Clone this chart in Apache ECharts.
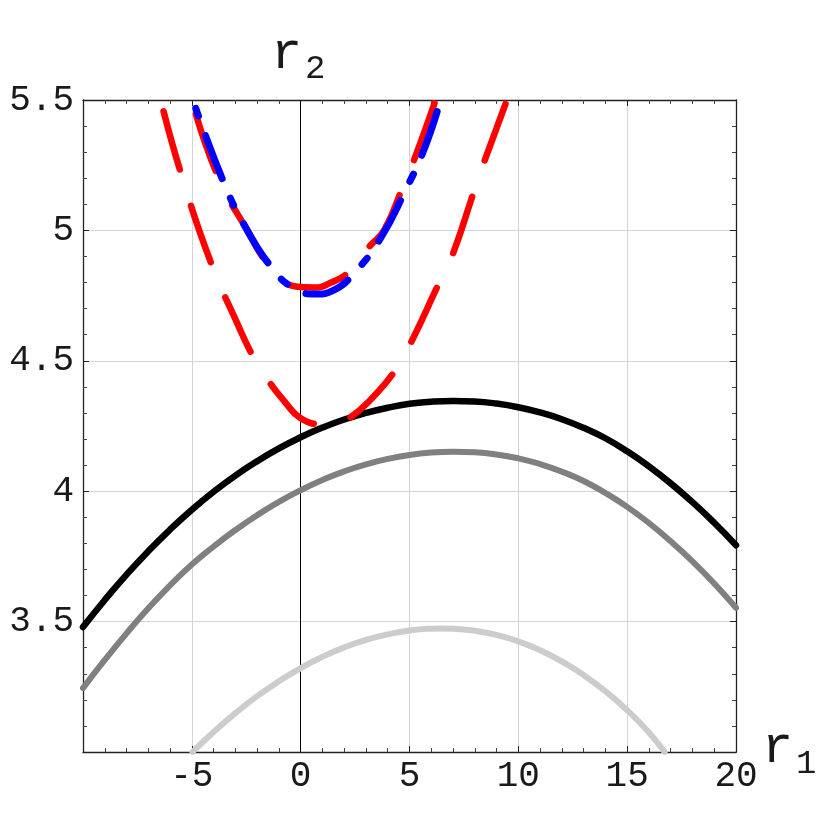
<!DOCTYPE html>
<html>
<head>
<meta charset="utf-8">
<script src="https://cdn.jsdelivr.net/npm/echarts@6/dist/echarts.min.js"></script>
<style>
  html, body { margin: 0; padding: 0; background: #fff; }
  #main { width: 830px; height: 830px; }
</style>
</head>
<body>
<div id="main"></div>
<script>
// r1 values shared by the black and gray curves
var r1Steps = [-10, -9, -8, -7, -6, -5, -4, -3, -2, -1, 0, 1, 2, 3, 4, 5, 6, 7, 8, 9, 10,
               11, 12, 13, 14, 15, 16, 17, 18, 19, 20];
var blackR2 = [3.479, 3.583, 3.68, 3.77, 3.853, 3.929, 3.998, 4.06, 4.115, 4.164, 4.207,
               4.244, 4.275, 4.3, 4.32, 4.335, 4.343, 4.346, 4.344, 4.336, 4.322,
               4.302, 4.276, 4.243, 4.203, 4.153, 4.095, 4.03, 3.958, 3.879, 3.793];
var grayR2 = [3.245, 3.353, 3.455, 3.551, 3.639, 3.719, 3.788, 3.851, 3.908, 3.959, 4.004,
              4.043, 4.076, 4.103, 4.124, 4.139, 4.148, 4.151, 4.149, 4.141, 4.126,
              4.104, 4.075, 4.039, 3.993, 3.94, 3.878, 3.808, 3.731, 3.646, 3.553];

var lightR1 = [-4.97, -4, -3, -2, -1, 0, 1, 2, 3, 4, 5, 6, 6.5, 7, 8, 9, 10, 11, 12, 13, 14, 15, 16, 16.72];
var lightR2 = [3.0, 3.077, 3.149, 3.214, 3.271, 3.322, 3.365, 3.401, 3.43, 3.451, 3.466, 3.473, 3.474,
               3.473, 3.465, 3.449, 3.424, 3.39, 3.347, 3.295, 3.233, 3.16, 3.075, 3.0];

var redOuterR1 = [-6.43, -5.51, -4.06, -3.0, -2.22, -1.45, -0.7, 0, 0.9, 1.6, 2.22, 3.2, 4.36,
                  5.05, 6.35, 6.97, 7.96, 8.42, 9.48];
var redOuterR2 = [5.5, 5.222, 4.862, 4.66, 4.522, 4.42, 4.34, 4.28, 4.258, 4.262, 4.28, 4.35, 4.465,
                  4.567, 4.797, 4.905, 5.149, 5.26, 5.5];

var redInnerR1 = [-5.0, -3.83, -2.45, -1.38, -0.15, 0.6, 1.4, 2.22, 3.14, 3.83, 4.67, 5.21, 6.2];
var redInnerR2 = [5.5, 5.213, 5.0, 4.861, 4.784, 4.781, 4.8, 4.842, 4.937, 5.0, 5.161, 5.27, 5.5];

var blueR1 = [-4.95, -3.52, -2.45, -1.3, -0.31, 0.7, 1.5, 2.45, 3.67, 4.82, 5.66, 6.43];
var blueR2 = [5.5, 5.181, 5.0, 4.855, 4.778, 4.756, 4.77, 4.836, 4.97, 5.155, 5.308, 5.5];

function pairs(xs, ys) {
    return xs.map(function (x, i) { return [x, ys[i]]; });
}

var chart = echarts.init(document.getElementById('main'));

var mono = 'Liberation Mono';
var frame = { show: true, onZero: false, lineStyle: { color: '#222', width: 1.3 } };
var ticks = { show: true, inside: true, length: 6, lineStyle: { color: '#222', width: 1 } };
var minor = { show: true, splitNumber: 5, length: 4, lineStyle: { color: '#444', width: 1 } };

function curve(data, color, width, dash, offset, z) {
    return {
        type: 'line',
        data: data,
        smooth: true,
        showSymbol: false,
        silent: true,
        z: z,
        lineStyle: { color: color, width: width, type: dash || 'solid', dashOffset: offset || 0, cap: 'round' }
    };
}

var option = {
    backgroundColor: '#fff',
    animation: false,
    grid: { left: 83, top: 100, width: 653, height: 652 },
    xAxis: [
        {
            type: 'value', min: -10, max: 20, interval: 5, position: 'bottom',
            axisLine: frame, axisTick: ticks, minorTick: minor,
            splitLine: { show: true, lineStyle: { color: '#d4d4d4', width: 1 } },
            axisLabel: { showMinLabel: false, fontFamily: mono, fontSize: 36, color: '#1a1a1a', margin: 6 }
        },
        {
            type: 'value', min: -10, max: 20, interval: 5, position: 'top',
            axisLine: frame, axisTick: ticks, minorTick: minor,
            splitLine: { show: false }, axisLabel: { show: false }
        }
    ],
    yAxis: [
        {
            type: 'value', min: 3, max: 5.5, interval: 0.5, position: 'left',
            axisLine: frame, axisTick: ticks, minorTick: minor,
            splitLine: { show: true, lineStyle: { color: '#d4d4d4', width: 1 } },
            axisLabel: { showMinLabel: false, fontFamily: mono, fontSize: 36, color: '#1a1a1a', margin: 9 }
        },
        {
            type: 'value', min: 3, max: 5.5, interval: 0.5, position: 'right',
            axisLine: frame, axisTick: ticks, minorTick: minor,
            splitLine: { show: false }, axisLabel: { show: false }
        }
    ],
    graphic: [
        { type: 'text', left: 271, top: 28, style: { text: 'r', font: '52px "Liberation Mono"', fill: '#1a1a1a' } },
        { type: 'text', left: 305, top: 52, style: { text: '2', font: '34px "Liberation Mono"', fill: '#1a1a1a' } },
        { type: 'text', left: 762, top: 722, style: { text: 'r', font: '52px "Liberation Mono"', fill: '#1a1a1a' } },
        { type: 'text', left: 796, top: 747, style: { text: '1', font: '34px "Liberation Mono"', fill: '#1a1a1a' } }
    ],
    series: [
        (function () {
            var s = curve(pairs(lightR1, lightR2), '#cccccc', 6, null, 0, 2);
            s.markLine = {
                silent: true, symbol: 'none', z: 1,
                label: { show: false },
                lineStyle: { color: '#000', width: 1, type: 'solid' },
                data: [{ xAxis: 0 }]
            };
            return s;
        })(),
        curve(pairs(r1Steps, grayR2), '#808080', 6, null, 0, 2),
        curve(pairs(r1Steps, blackR2), '#000000', 6.5, null, 0, 2),
        curve(pairs(redOuterR1, redOuterR2), '#ff0000', 6.5, [60, 38], 86, 3),
        curve(pairs(redInnerR1, redInnerR2), '#ff0000', 6.5, [60, 38], 83, 3),
        curve(pairs(blueR1, blueR2), '#0000ff', 7, [8, 21, 46, 21], 87, 4)
    ]
};

chart.setOption(option);
</script>
</body>
</html>
